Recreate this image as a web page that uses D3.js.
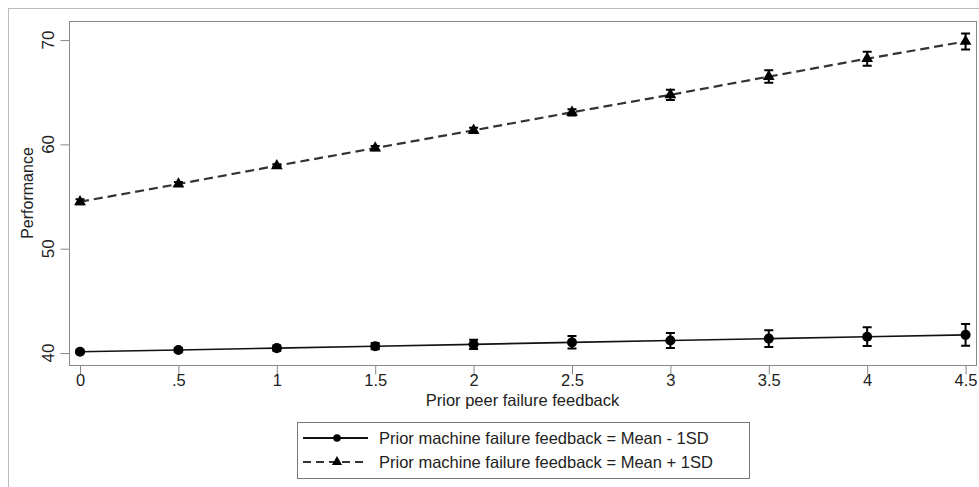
<!DOCTYPE html>
<html>
<head>
<meta charset="utf-8">
<script src="https://cdn.jsdelivr.net/npm/d3@7"></script>
<style>
  body { margin: 0; background: #fff; }
  text { font-family: "Liberation Sans", Arial, sans-serif; fill: #222; }
</style>
</head>
<body>
<div id="app"></div>
<script>
// data
const peerFeedback = [0, 0.5, 1, 1.5, 2, 2.5, 3, 3.5, 4, 4.5];
const lowMean = [40.12, 40.29, 40.47, 40.65, 40.83, 41.02, 41.2, 41.38, 41.56, 41.74];
const lowCi = [0.15, 0.2, 0.25, 0.3, 0.45, 0.6, 0.72, 0.8, 0.9, 1.05];
const highMean = [54.5, 56.2, 57.95, 59.65, 61.35, 63.08, 64.75, 66.5, 68.22, 69.87];
const highCi = [0.25, 0.2, 0.15, 0.2, 0.25, 0.3, 0.5, 0.6, 0.67, 0.77];
const xTicks = [0, 0.5, 1, 1.5, 2, 2.5, 3, 3.5, 4, 4.5];
const yTicks = [40, 50, 60, 70];
const legendLabels = [
  'Prior machine failure feedback = Mean - 1SD',
  'Prior machine failure feedback = Mean + 1SD'
];

const width = 979;
const height = 487;
const plot = { left: 69, right: 976, top: 21, bottom: 365 };

const svg = d3.select('#app').append('svg').attr('width', width).attr('height', height);

// outer frame
svg.append('rect')
  .attr('x', 8.5).attr('y', 8.5)
  .attr('width', width + 10).attr('height', height + 10)
  .attr('fill', 'none').attr('stroke', '#bbb');

const x = d3.scaleLinear([-0.056, 4.553], [plot.left, plot.right]);
const y = d3.scaleLinear([38.85, 71.83], [plot.bottom, plot.top]);

// plot border
svg.append('rect')
  .attr('x', plot.left + 0.5).attr('y', plot.top + 0.5)
  .attr('width', plot.right - plot.left).attr('height', plot.bottom - plot.top)
  .attr('fill', 'none').attr('stroke', '#888');

const fmt = d => d === 0 ? '0' : (d < 1 ? d3.format('.1f')(d).replace(/^0/, '') : String(d));

// x axis
const xAxis = svg.append('g')
  .attr('transform', `translate(0, ${plot.bottom + 0.5})`)
  .call(d3.axisBottom(x).tickValues(xTicks).tickFormat(fmt).tickSize(9).tickSizeOuter(0));
xAxis.select('.domain').remove();
xAxis.selectAll('line').attr('stroke', '#888');
xAxis.selectAll('text').attr('font-size', 16.5).attr('fill', '#333').attr('dy', '0.9em').attr('y', 6);

// y axis
const yAxis = svg.append('g')
  .attr('transform', `translate(${plot.left + 0.5}, 0)`)
  .call(d3.axisLeft(y).tickValues(yTicks).tickSize(9).tickSizeOuter(0));
yAxis.select('.domain').remove();
yAxis.selectAll('line').attr('stroke', '#888');
yAxis.selectAll('text')
  .attr('font-size', 17).attr('fill', '#333')
  .attr('text-anchor', 'middle')
  .attr('x', 0).attr('y', 0).attr('dy', 0)
  .attr('transform', d => `translate(-16, ${y(d)}) rotate(-90)`);
yAxis.selectAll('.tick').attr('transform', null);
yAxis.selectAll('.tick line').attr('transform', d => `translate(0, ${y(d) + 0.5})`);

// axis titles
svg.append('text')
  .attr('x', (plot.left + plot.right) / 2).attr('y', 406)
  .attr('text-anchor', 'middle').attr('font-size', 16.5)
  .text('Prior peer failure feedback');
svg.append('text')
  .attr('transform', `translate(33, ${(plot.top + plot.bottom) / 2}) rotate(-90)`)
  .attr('text-anchor', 'middle').attr('font-size', 16)
  .text('Performance');

const series = [
  { mean: lowMean, ci: lowCi, dash: null, color: '#111', marker: d3.symbolCircle, size: 80 },
  { mean: highMean, ci: highCi, dash: '9,5', color: '#333', marker: d3.symbolTriangle, size: 60 }
];

const line = d3.line().x(d => x(d[0])).y(d => y(d[1]));

series.forEach(s => {
  const pts = peerFeedback.map((v, i) => [v, s.mean[i], s.ci[i]]);
  svg.append('path')
    .datum(pts)
    .attr('d', line)
    .attr('fill', 'none')
    .attr('stroke', s.color)
    .attr('stroke-width', s.dash ? 2.2 : 1.6)
    .attr('stroke-dasharray', s.dash);

  const eb = svg.append('g');
  eb.selectAll('path.eb').data(pts).join('path')
    .attr('class', 'eb')
    .attr('d', d => {
      const cx = x(d[0]), t = y(d[1] + d[2]), b = y(d[1] - d[2]);
      return `M${cx - 4.5},${t}H${cx + 4.5}M${cx},${t}V${b}M${cx - 4.5},${b}H${cx + 4.5}`;
    })
    .attr('fill', 'none').attr('stroke', '#000').attr('stroke-width', 2);

  svg.append('g').selectAll('path.mk').data(pts).join('path')
    .attr('class', 'mk')
    .attr('transform', d => `translate(${x(d[0])}, ${y(d[1])})`)
    .attr('d', d3.symbol().type(s.marker).size(s.size))
    .attr('fill', '#000');
});

// legend
const lg = svg.append('g');
lg.append('rect')
  .attr('x', 297.5).attr('y', 422.5).attr('width', 452).attr('height', 56)
  .attr('fill', '#fff').attr('stroke', '#777');
series.forEach((s, i) => {
  const ly = 438 + i * 24;
  lg.append('line')
    .attr('x1', 303).attr('x2', 368).attr('y1', ly).attr('y2', ly)
    .attr('stroke', s.color).attr('stroke-width', 2)
    .attr('stroke-dasharray', s.dash ? '8,5' : null);
  lg.append('path')
    .attr('transform', `translate(337, ${ly})`)
    .attr('d', d3.symbol().type(s.marker).size(45))
    .attr('fill', '#000');
  lg.append('text')
    .attr('x', 379).attr('y', ly + 6)
    .attr('font-size', 16.5)
    .text(legendLabels[i]);
});
</script>
</body>
</html>
